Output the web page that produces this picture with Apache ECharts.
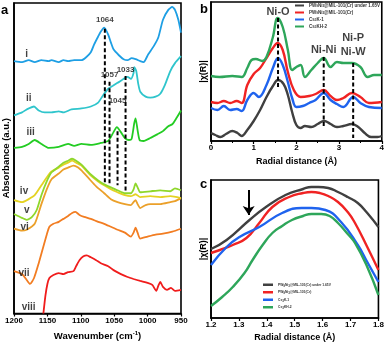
<!DOCTYPE html>
<html>
<head>
<meta charset="utf-8">
<script src="https://cdn.jsdelivr.net/npm/echarts@6/dist/echarts.min.js"></script>
<style>
  html, body { margin: 0; padding: 0; background: #fff; }
  #chart { width: 387px; height: 346px; }
</style>
</head>
<body>
<div id="chart"></div>
<script>
// panel a : FTIR spectra (wavenumber, offset absorbance)
const wnI = [1200,1188,1178,1169,1159,1148,1144,1133,1126,1119,1110,1099,1092,1085,1080,1074,1070,1065,1059,1055,1051,1043,1036,1030,1024,1018,1011,1006,999,991,984,977,969,963,959,954,950];
const absI = [256,255,257,255,257,256,257,255,257,256,257,257,260,265,273,281,286,290,283,275,268,262,258,257,259,258,256,255,263,271,280,298,308,311,308,298,285];
const wnII = [1200,1188,1181,1170,1163,1154,1144,1133,1126,1114,1099,1085,1074,1067,1059,1052,1045,1040,1034,1030,1025,1021,1020,1017,1014,1011,1003,996,988,981,974,966,959,950];
const absII = [201,204,207,210,206,204,204,205,204,207,208,210,214,221,228,231,234,236,239,240,238,244,250,246,233,225,220,219,220,223,232,246,254,261];
const wnIII = [1200,1188,1178,1169,1159,1148,1133,1119,1110,1099,1085,1070,1059,1055,1051,1046,1040,1034,1028,1024,1020,1018,1015,1012,1006,996,985,977,969,963,957,950];
const absIII = [168,169,172,176,172,168,169,172,170,172,171,173,175,179,184,189,184,178,176,177,193,198,186,176,175,178,182,185,190,192,198,206];
const wnIV = [1200,1188,1178,1169,1159,1151,1144,1133,1126,1119,1113,1107,1099,1092,1085,1074,1065,1055,1045,1034,1025,1018,1011,996,981,966,950];
const absIV = [115,113,116,120,130,138,144,148,151,153,155,153,150,145,140,134,130,126,123,120,119,121,118,119,118,119,117];
const wnV = [1200,1188,1181,1173,1166,1159,1151,1144,1133,1126,1119,1113,1107,1099,1092,1085,1074,1065,1055,1045,1034,1025,1021,1018,1015,1011,996,981,966,959,950];
const absV = [101,97,95,98,105,120,134,143,149,153,155,157,155,151,146,141,135,131,128,125,122,122,126,132,128,123,124,125,124,127,125];
const wnVI = [1200,1188,1181,1169,1159,1151,1144,1133,1126,1119,1111,1104,1096,1088,1077,1065,1055,1045,1034,1025,1021,1018,1015,1011,1003,996,981,966,959,950];
const absVI = [86,84,85,91,111,126,136,142,146,148,150,148,143,137,129,122,116,113,111,110,113,115,111,107,110,111,111,113,114,117];
const wnVII = [1200,1188,1181,1176,1170,1163,1156,1151,1147,1141,1133,1126,1119,1113,1108,1102,1095,1085,1074,1065,1055,1045,1034,1025,1021,1018,1015,1011,1000,988,977,963,950];
const absVII = [43,40,34,30,36,51,68,80,88,91,93,96,99,102,103,100,98,96,93,91,88,85,82,78,82,87,82,76,78,80,81,83,86];
const wnVIII = [1156,1153,1150,1147,1141,1133,1126,1119,1111,1107,1102,1096,1091,1085,1077,1070,1059,1051,1040,1030,1021,1011,1000,993,987,984,981,977,971,965,959,950];
const absVIII = [0,18,30,36,39,41,40,42,43,48,54,58,59,57,54,51,48,44,40,37,35,33,31,29,23,28,32,27,24,26,23,24];

const romanText = ['i','ii','iii','iv','v','vi','vii','viii'];
const romanWn = [1181,1178,1175,1185,1181,1184,1185,1178];
const romanVal = [263,218,184,124,105,88,41,6];

const peakWn = [1064,1057,1045,1033];
const peakTop = [289,235,185,241];
const peakBottom = [131,131,130,123];
const peakLabelVal = [298,242,216,247];

// panel b : EXAFS |chi(R)|
const rBlack = [0,0.1,0.22,0.35,0.5,0.62,0.72,0.85,1.0,1.15,1.3,1.45,1.57,1.7,1.8,1.9,2.0,2.1,2.2,2.35,2.5,2.65,2.8,2.95,3.1,3.3,3.45,3.6,3.75,3.9,4.0];
const chiBlack = [8,6,4,7,10,8,5,11,20,31,44,55,61,57,46,29,16,13,15,14,17,20,17,14,15,17,14,8,4,4,5];
const rRed = [0,0.15,0.3,0.45,0.6,0.72,0.85,1.0,1.15,1.3,1.45,1.56,1.68,1.8,1.94,2.1,2.3,2.45,2.64,2.8,2.95,3.1,3.3,3.5,3.7,4.0];
const chiRed = [39,38,40,38,40,38,56,67,73,83,93,98,91,69,51,44,45,47,51,45,41,43,48,44,38,39];
const rBlue = [0,0.15,0.3,0.45,0.6,0.72,0.85,1.0,1.12,1.3,1.45,1.57,1.68,1.8,1.9,2.0,2.15,2.3,2.45,2.64,2.8,2.95,3.1,3.33,3.5,3.7,4.0];
const chiBlue = [33,31,35,31,32,30,41,48,44,56,73,83,76,59,43,34,35,38,41,48,41,37,34,44,38,34,33];
const rGreen = [0,0.2,0.5,0.72,0.85,0.95,1.05,1.2,1.3,1.45,1.56,1.68,1.8,1.9,2.0,2.1,2.2,2.35,2.5,2.64,2.8,2.95,3.1,3.3,3.5,3.67,3.82,4.0];
const chiGreen = [65,64,65,64,73,81,82,80,84,104,123,114,91,71,74,76,64,71,78,83,74,79,78,78,74,64,66,66];

const bondR = [1.57,2.64,3.33];
const bondTop = [123,84,78];
const bondBottom = [53,13,3];
const bondText = ['Ni-O','Ni-Ni','Ni-P\nNi-W'];
const bondLabelVal = [129,91,96];

// panel c : zoom on the Ni-O peak
const rcBlack = [1.2,1.256,1.338,1.397,1.467,1.53,1.56,1.585,1.62,1.655,1.69,1.726,1.76,1.8];
const chicBlack = [69,78,98,111,123,129,131,131,130,126,121,115,105,91];
const rcRed = [1.2,1.232,1.278,1.327,1.373,1.42,1.48,1.53,1.56,1.59,1.62,1.655,1.69,1.716,1.76,1.8];
const chicRed = [65,68,73,80,95,111,121,125,126,125,122,116,106,95,71,48];
const rcBlue = [1.2,1.256,1.302,1.373,1.455,1.525,1.56,1.61,1.666,1.726,1.76,1.8];
const chicBlue = [53,71,81,91,105,110,110,108,96,73,56,36];
const rcGreen = [1.2,1.24,1.278,1.32,1.349,1.385,1.42,1.455,1.49,1.53,1.56,1.595,1.625,1.655,1.69,1.716,1.76,1.8];
const chicGreen = [12,21,31,45,58,73,85,92,98,102,104,104,102,95,84,75,51,23];

const arrowR = 1.335, arrowTop = 128, arrowBottom = 103;

const sampleNames = ['PW9Ni3@MIL-101(Cr) under 1.65V','PW9Ni3@MIL-101(Cr)','Cs3K-1','Cs3KH-2'];
const sampleColors = ['#404040','#f02323','#1f63ee','#2ea65a'];

const zip = (xs, ys) => xs.map((x, i) => [x, ys[i]]);
const FONT = 'Liberation Sans, Arial, sans-serif';

const chart = echarts.init(document.getElementById('chart'));

function curve(xi, xs, ys, color, width, smooth, name) {
  return {
    type: 'line', name: name, xAxisIndex: xi, yAxisIndex: xi,
    data: zip(xs, ys), showSymbol: false, symbol: 'none', smooth: smooth,
    lineStyle: { color: color, width: width }, itemStyle: { color: color },
    silent: true, z: 2
  };
}
function dash(xi, x, top, bottom) {
  return {
    type: 'line', xAxisIndex: xi, yAxisIndex: xi, data: [[x, top], [x, bottom]],
    symbol: 'none', lineStyle: { color: '#000', width: 2, type: [4, 2.5] }, silent: true, z: 5
  };
}
function labels(xi, xs, ys, texts, size) {
  return {
    type: 'scatter', xAxisIndex: xi, yAxisIndex: xi, data: zip(xs, ys), symbolSize: 1,
    itemStyle: { color: 'rgba(0,0,0,0)' }, silent: true, z: 6,
    label: { show: true, position: 'inside', formatter: p => texts[p.dataIndex],
      fontSize: size, fontWeight: 'bold', color: '#111', fontFamily: FONT, lineHeight: size + 3 }
  };
}
const axisBase = {
  axisLine: { show: true, onZero: false, lineStyle: { color: '#000', width: 1.6 } },
  axisTick: { show: true, length: 3, lineStyle: { color: '#000', width: 1.2 } },
  axisLabel: { fontSize: 8, fontWeight: 'bold', color: '#000', margin: 3, fontFamily: FONT, formatter: v => String(v) },
  splitLine: { show: false },
  nameLocation: 'middle',
  nameTextStyle: { fontSize: 9.5, fontWeight: 'bold', color: '#000', fontFamily: FONT }
};
const yBase = Object.assign({}, axisBase, {
  type: 'value', axisTick: { show: false }, axisLabel: { show: false }, nameGap: 3
});
const subRich = { s: { fontSize: 3, fontWeight: 'bold', color: '#333', verticalAlign: 'bottom' } };
const legendFmt = n => n.replace('PW9Ni3', 'PW{s|9}Ni{s|3}').replace('Cs3', 'Cs{s|3}');

const series = [
  curve(0, wnI, absI, '#1e9fe4', 1.8, 0.2),
  curve(0, wnII, absII, '#2fc5cc', 1.8, 0.2),
  curve(0, wnIII, absIII, '#23cc23', 1.8, 0.2),
  curve(0, wnVI, absVI, '#eba02a', 1.8, 0.2),
  curve(0, wnIV, absIV, '#e4d222', 1.8, 0.2),
  curve(0, wnV, absV, '#8fd72b', 1.8, 0.2),
  curve(0, wnVII, absVII, '#f27d22', 1.8, 0.2),
  curve(0, wnVIII, absVIII, '#f01c1c', 1.8, 0.2),
  labels(0, romanWn, romanVal, romanText, 10),
  labels(0, peakWn, peakLabelVal, peakWn.map(String), 8),
  curve(1, rBlack, chiBlack, sampleColors[0], 2.4, 0.4, sampleNames[0]),
  curve(1, rRed, chiRed, sampleColors[1], 2.4, 0.4, sampleNames[1]),
  curve(1, rBlue, chiBlue, sampleColors[2], 2.4, 0.4, sampleNames[2]),
  curve(1, rGreen, chiGreen, sampleColors[3], 2.4, 0.4, sampleNames[3]),
  labels(1, bondR, bondLabelVal, bondText, 11),
  curve(2, rcBlack, chicBlack, sampleColors[0], 2.4, 0.5, sampleNames[0]),
  curve(2, rcRed, chicRed, sampleColors[1], 2.4, 0.5, sampleNames[1]),
  curve(2, rcBlue, chicBlue, sampleColors[2], 2.4, 0.5, sampleNames[2]),
  curve(2, rcGreen, chicGreen, sampleColors[3], 2.4, 0.5, sampleNames[3]),
  {
    type: 'line', xAxisIndex: 2, yAxisIndex: 2, data: [], silent: true,
    markLine: {
      silent: true, symbol: ['none', 'arrow'], symbolSize: 9, label: { show: false },
      lineStyle: { color: '#000', width: 2, type: 'solid' },
      data: [[{ coord: [arrowR, arrowTop] }, { coord: [arrowR, arrowBottom] }]]
    }
  }
];
peakWn.forEach((w, i) => series.push(dash(0, w, peakTop[i], peakBottom[i])));
bondR.forEach((r, i) => series.push(dash(1, r, bondTop[i], bondBottom[i])));

chart.setOption({
  animation: false,
  textStyle: { fontFamily: FONT },
  grid: [
    { left: 12, top: 3, width: 169, height: 315, show: true, borderColor: '#000', borderWidth: 1.6 },
    { left: 211, top: 2, width: 171, height: 139, show: true, borderColor: '#000', borderWidth: 1.6 },
    { left: 211, top: 180, width: 171, height: 138, show: true, borderColor: '#000', borderWidth: 1.6 }
  ],
  xAxis: [
    Object.assign({}, axisBase, {
      gridIndex: 0, type: 'value', min: 950, max: 1200, interval: 50, inverse: true,
      name: 'Wavenumber (cm{sup|-1})', nameGap: 17,
      nameTextStyle: Object.assign({}, axisBase.nameTextStyle, {
        rich: { sup: { fontSize: 6, fontWeight: 'bold', color: '#000', verticalAlign: 'top', padding: [0, 0, 5, 0] } }
      })
    }),
    Object.assign({}, axisBase, {
      gridIndex: 1, type: 'value', min: 0, max: 4, interval: 1,
      minorTick: { show: true, splitNumber: 2, length: 2, lineStyle: { color: '#000', width: 1 } },
      name: 'Radial distance (Å)', nameGap: 16,
      nameTextStyle: Object.assign({}, axisBase.nameTextStyle, { fontSize: 9 })
    }),
    Object.assign({}, axisBase, {
      gridIndex: 2, type: 'value', min: 1.2, max: 1.8, interval: 0.1,
      axisLabel: Object.assign({}, axisBase.axisLabel, { formatter: v => v.toFixed(1) }),
      name: 'Radial distance (Å)', nameGap: 15,
      nameTextStyle: Object.assign({}, axisBase.nameTextStyle, { fontSize: 9 })
    })
  ],
  yAxis: [
    Object.assign({}, yBase, { gridIndex: 0, min: 0, max: 315, name: 'Absorbance (a.u.)' }),
    Object.assign({}, yBase, { gridIndex: 1, min: 0, max: 139, name: '|χ(R)|',
      nameTextStyle: Object.assign({}, axisBase.nameTextStyle, { fontSize: 9 }) }),
    Object.assign({}, yBase, { gridIndex: 2, min: 0, max: 138, name: '|χ(R)|',
      nameTextStyle: Object.assign({}, axisBase.nameTextStyle, { fontSize: 9 }) })
  ],
  legend: [
    {
      data: sampleNames, left: 295, top: 3, orient: 'vertical', icon: 'rect',
      itemWidth: 9, itemHeight: 2, itemGap: 2, padding: 0, selectedMode: false,
      formatter: legendFmt,
      textStyle: { fontSize: 4.5, lineHeight: 5, fontWeight: 'bold', color: '#333', rich: subRich }
    },
    {
      data: sampleNames, left: 263, top: 282, orient: 'vertical', icon: 'rect',
      itemWidth: 10, itemHeight: 2.5, itemGap: 2, padding: 0, selectedMode: false,
      formatter: legendFmt,
      textStyle: { fontSize: 3.3, lineHeight: 5.5, fontWeight: 'bold', color: '#333', rich: subRich }
    }
  ],
  graphic: [
    { type: 'text', left: 1, top: 4, style: { text: 'a', font: 'bold 13px ' + FONT, fill: '#000' } },
    { type: 'text', left: 200, top: 3, style: { text: 'b', font: 'bold 13px ' + FONT, fill: '#000' } },
    { type: 'text', left: 200, top: 178, style: { text: 'c', font: 'bold 13px ' + FONT, fill: '#000' } }
  ],
  series: series
});
</script>
</body>
</html>
